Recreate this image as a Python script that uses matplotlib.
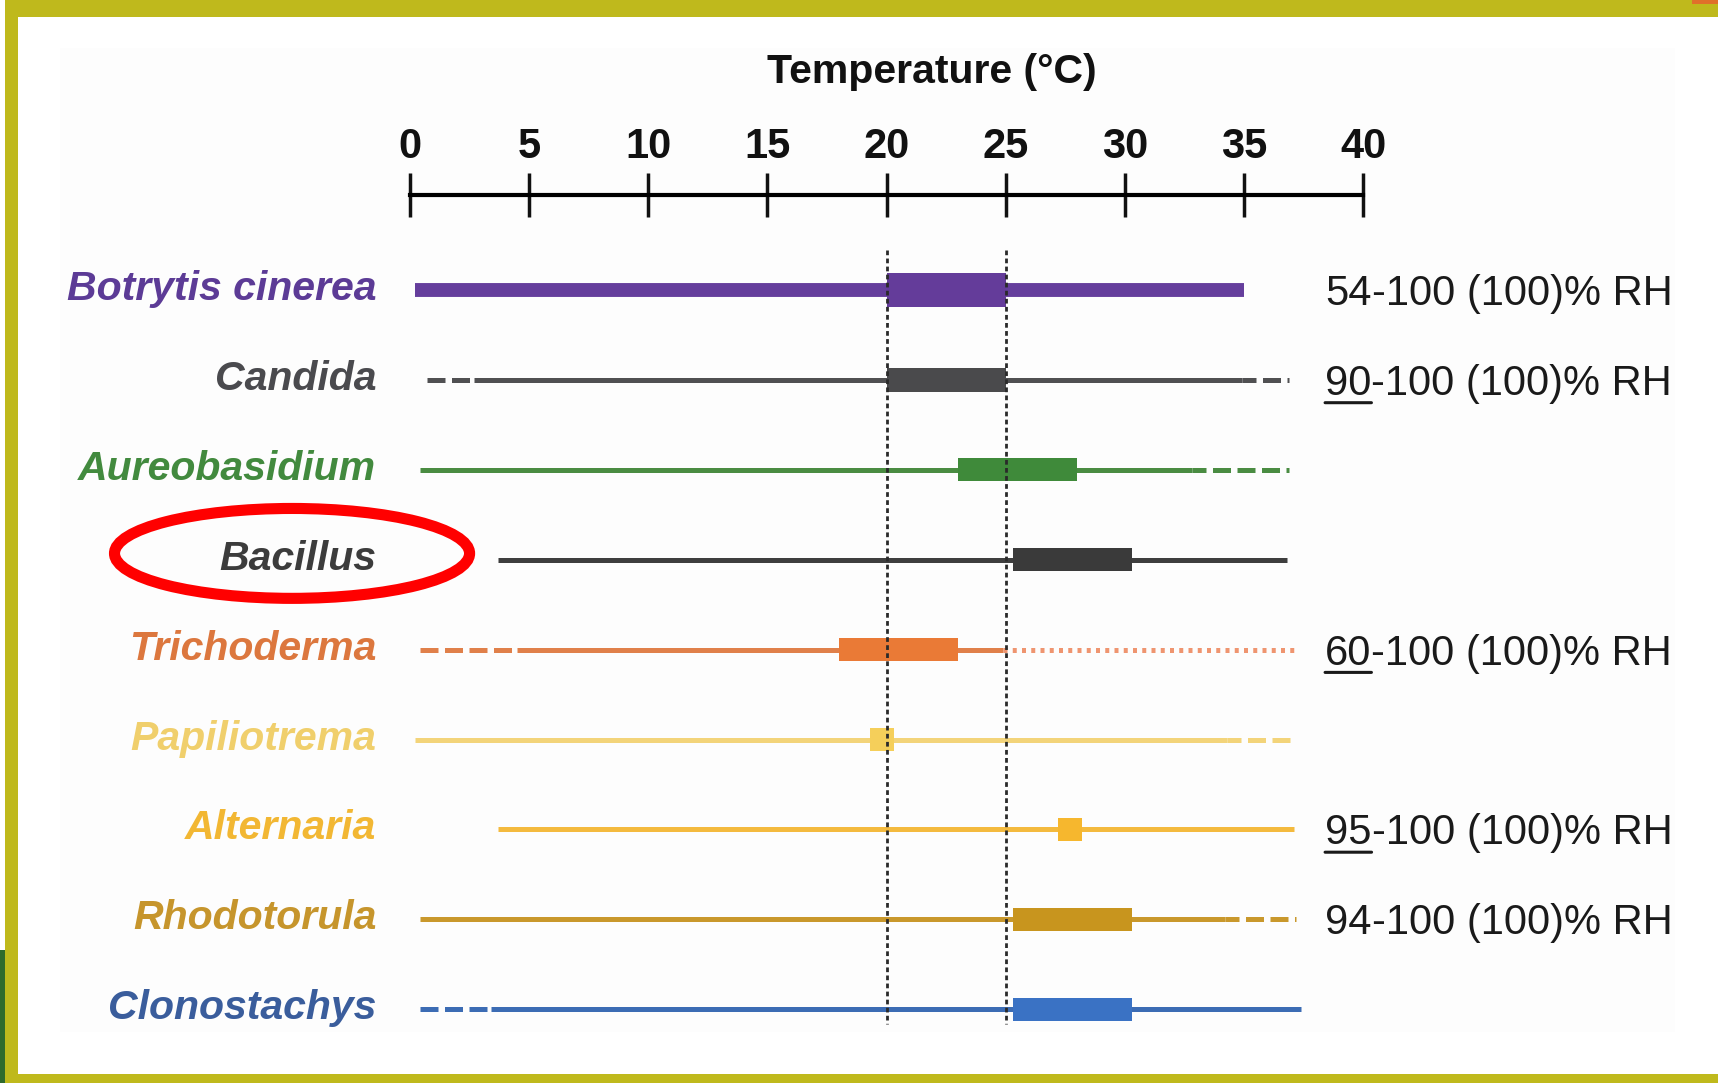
import matplotlib
matplotlib.use("Agg")
import matplotlib.pyplot as plt
import matplotlib.transforms as mtransforms
from matplotlib.patches import Rectangle, Ellipse

plt.rcParams['font.family'] = ['Liberation Sans', 'DejaVu Sans']

# Organisms, top to bottom
species = ["Botrytis cinerea", "Candida", "Aureobasidium", "Bacillus", "Trichoderma",
           "Papiliotrema", "Alternaria", "Rhodotorula", "Clonostachys"]
label_colors = ["#5c3b96", "#4a4a4e", "#428a3e", "#3c3c3c", "#dc773e",
                "#f0cf6c", "#f2b733", "#c6952c", "#3a5d9c"]
line_colors = ["#653e9c", "#505052", "#4a8c42", "#3e3e3e", "#e0804a",
               "#f3d47a", "#f4ba3e", "#c9982c", "#3c6cb4"]
box_colors = ["#643c9a", "#4a4a4c", "#3f8a3a", "#3a3a3a", "#ea7a36",
              "#f5cf5a", "#f6b72e", "#c8951e", "#3a72c4"]

# Temperature ranges (degrees C)
growth_lo = [0.2, 2.7, 0.4, 3.7, 4.5, 0.2, 3.7, 0.4, 3.4]
growth_hi = [35.0, 34.9, 32.8, 36.8, 24.9, 34.3, 37.1, 34.2, 37.4]
uncertain_lo = [None, 0.7, None, None, 0.4, None, None, None, 0.4]
uncertain_hi = [None, 36.9, 36.9, None, 37.1, 37.2, None, 37.2, None]
uncertain_hi_style = ["", "dash", "dash", "", "dot", "dash", "", "dash", ""]
optimum_lo = [20, 20, 23, 25.3, 18, 19.3, 27.2, 25.3, 25.3]
optimum_hi = [25, 25, 28, 30.3, 23, 20.3, 28.2, 30.3, 30.3]

# Relative humidity notes
rh_min = [54, 90, None, None, 60, None, 95, 94, None]
rh_underlined = [False, True, False, False, True, False, True, False, False]

temp_ticks = [0, 5, 10, 15, 20, 25, 30, 35, 40]
ref_temps = [20, 25]

W, H, DPI = 1718, 1083, 100
fig = plt.figure(figsize=(W / DPI, H / DPI), dpi=DPI)
fig.patch.set_facecolor("white")

# olive frame
border = "#bfb91c"
fig.add_artist(Rectangle((5 / W, 0), 1, 1, transform=fig.transFigure,
                         fc=border, ec="none", zorder=-20))
fig.add_artist(Rectangle((18 / W, 9 / H), 1, 1 - 26 / H, transform=fig.transFigure,
                         fc="white", ec="none", zorder=-19))
fig.add_artist(Rectangle((60 / W, 1 - 1032 / H), 1615 / W, 984 / H, transform=fig.transFigure,
                         fc="#fdfdfd", ec="none", zorder=-18))
fig.add_artist(Rectangle((0, 0), 5 / W, 133 / H, transform=fig.transFigure,
                         fc="#2f6a2c", ec="none", zorder=-17))
fig.add_artist(Rectangle((1692 / W, 1 - 4 / H), 26 / W, 4 / H, transform=fig.transFigure,
                         fc="#e0702a", ec="none", zorder=-17))

# axes: x in degrees, y in row index
px_per_deg = 23.83
x0_px = 410
row_px, row0_px = 89.9, 290
top_px, bot_px = 180, 1030
xmin, xmax = -1, 41
left_px = x0_px + xmin * px_per_deg
right_px = x0_px + xmax * px_per_deg
ax = fig.add_axes([left_px / W, 1 - bot_px / H, (right_px - left_px) / W, (bot_px - top_px) / H])
ax.patch.set_visible(False)
ax.set_xlim(xmin, xmax)
ax.set_ylim((bot_px - row0_px) / row_px, (top_px - row0_px) / row_px)

for s in ["left", "right", "bottom"]:
    ax.spines[s].set_visible(False)
ax.spines["top"].set_position(("data", (195 - row0_px) / row_px))
ax.spines["top"].set_bounds(0, 40)
ax.spines["top"].set_linewidth(3.0)
ax.xaxis.set_ticks_position("top")
ax.set_yticks([])
ax.set_xticks(temp_ticks, [str(t) for t in temp_ticks], fontsize=30, fontweight="bold")
ax.tick_params(axis="x", direction="inout", length=32, width=2.5, pad=4.5, colors="#111111")

fig.text(932 / W, 1 - 83 / H, "Temperature (°C)", ha="center", va="baseline",
         fontsize=29.5, fontweight="bold", color="#111111")

label_tr = mtransforms.offset_copy(ax.transData, fig=fig, x=0, y=-10, units="dots")
rh_tr = mtransforms.offset_copy(ax.transData, fig=fig, x=0, y=-15, units="dots")

for i, name in enumerate(species):
    thick = i == 0
    lw = 10 if thick else 3.6
    box_h = 0.37 if thick else 0.26
    c = line_colors[i]

    ax.plot([growth_lo[i], growth_hi[i]], [i, i], color=c, lw=lw,
            solid_capstyle="butt", zorder=2)
    if uncertain_lo[i] is not None:
        ax.plot([uncertain_lo[i], growth_lo[i]], [i, i], color=c, lw=lw,
                linestyle=(0, (3.6, 1.3)), dash_capstyle="butt", zorder=2)
    if uncertain_hi[i] is not None:
        if uncertain_hi_style[i] == "dot":
            ax.plot([growth_hi[i], uncertain_hi[i]], [i, i], color="#ef9570", lw=lw,
                    linestyle=(0, (0.8, 1.05)), dash_capstyle="butt", zorder=2)
        else:
            ax.plot([growth_hi[i], uncertain_hi[i]], [i, i], color=c, lw=lw,
                    linestyle=(0.8, (3.6, 1.3)), dash_capstyle="butt", zorder=2)

    ax.barh(i, optimum_hi[i] - optimum_lo[i], left=optimum_lo[i], height=box_h,
            color=box_colors[i], edgecolor="none", zorder=3)

    ax.text(-1.42, i, name, transform=label_tr, ha="right", va="baseline",
            fontsize=29.5, fontweight="bold", fontstyle="italic", color=label_colors[i])

    if rh_min[i] is not None:
        t1 = ax.text(38.4, i, str(rh_min[i]), transform=rh_tr, ha="left", va="baseline",
                     fontsize=30, color="#1a1a1a")
        ax.annotate("-100 (100)% RH", xy=(1, 0), xycoords=t1, ha="left", va="bottom",
                    fontsize=30, color="#1a1a1a")
        if rh_underlined[i]:
            ax.annotate("", xy=(0, 0.03), xycoords=t1, xytext=(1, 0.03), textcoords=t1,
                        arrowprops=dict(arrowstyle="-", lw=2.2, color="#1a1a1a",
                                        shrinkA=0, shrinkB=0))

# optimum range guides
for t in ref_temps:
    ax.plot([t, t], [-0.45, len(species) - 1 + 0.17], color="#2a2a2a", lw=2.0,
            linestyle=(0, (1.7, 1.2)), zorder=5)

# highlight around Bacillus
bac = species.index("Bacillus")
ax.add_patch(Ellipse((-4.95, bac - 0.07), width=14.9, height=1.0, fill=False,
                     ec="#ff0000", lw=8, clip_on=False, zorder=6))

fig.savefig("out.png", dpi=DPI)
